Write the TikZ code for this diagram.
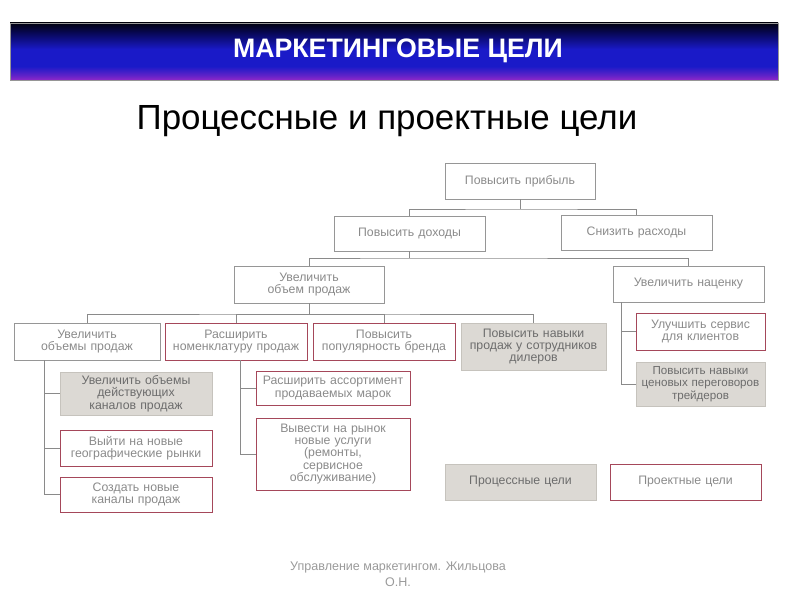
\documentclass[tikz,border=0pt]{standalone}
\usepackage{fontspec}
\setmainfont{Liberation Sans}
\usepackage{tikz}
\usetikzlibrary{positioning,calc}

\definecolor{lineclr}{HTML}{8A8A8A}
\definecolor{boxline}{HTML}{969696}
\definecolor{boxtext}{HTML}{8A8A8A}
\definecolor{projline}{HTML}{A5475A}
\definecolor{procfill}{HTML}{DCD9D4}
\definecolor{procline}{HTML}{C6C3BD}
\definecolor{proctext}{HTML}{6C6C6C}
\definecolor{footgray}{HTML}{9A9A9A}
\definecolor{bannerblue}{HTML}{1A1AC8}
\definecolor{bannernavy}{HTML}{0A0A6A}
\definecolor{bannerpurple}{HTML}{9028C8}
\definecolor{bannertop}{HTML}{000010}

\pgfdeclareverticalshading{banner}{100bp}{color(0bp)=(bannerpurple); color(25bp)=(bannerpurple); color(29bp)=(bannerpurple!60!bannerblue); color(37bp)=(bannerblue); color(52bp)=(bannerblue); color(64bp)=(bannernavy); color(75bp)=(bannertop); color(100bp)=(bannertop)}

\begin{document}
\begin{tikzpicture}[x=0.03cm, y=-0.03cm,
        boxfont/.style={font=\fontsize{10.5}{10.5}\selectfont},
        goal/.style 2 args={draw=boxline, text=boxtext, line width=0.8pt, boxfont,
            minimum width=#1*0.03cm, minimum height=#2*0.03cm,
            text width={#1*0.03cm-4pt}, align=center, inner sep=0pt},
        project/.style={draw=projline},
        process/.style={draw=procline, fill=procfill, text=proctext},
        link/.style={draw=lineclr, line width=0.8pt}]
        \useasboundingbox (0,0) rectangle (800,600);

        % Banner and headings
        \shade[shading=banner, draw=boxline, line width=0.5pt] (10,23) rectangle (778,80);
        \node [text=white, font=\bfseries\fontsize{22.8}{22.8}\selectfont] (title) at (398,51) {МАРКЕТИНГОВЫЕ ЦЕЛИ};
        \node [font=\fontsize{29.8}{29.8}\selectfont] (subtitle) at (387,121) {Процессные и проектные цели};

        % Place nodes
        \node [goal={150}{36}] (profit) at (520,181) {Повысить прибыль};
        \node [goal={151}{35}] (income) at (409.5,233.5) {Повысить доходы};
        \node [goal={151}{35}] (costs) at (636.5,232.5) {Снизить расходы};
        \node [goal={150}{37}] (volume) at (309,284.5) {Увеличить\\объем продаж};
        \node [goal={151}{36}] (markup) at (688.5,284) {Увеличить наценку};

        \node [goal={146}{37}] (volumes) at (87,341.5) {Увеличить\\объемы продаж};
        \node [goal={142}{37}, project] (range) at (236,341.5) {Расширить\\номенклатуру продаж};
        \node [goal={142}{37}, project] (brand) at (384,341.5) {Повысить\\популярность бренда};
        \node [goal={145}{47}, process] (dealers) at (533.5,346.5) {Повысить навыки\\продаж у сотрудников\\дилеров};

        \node [goal={129}{37}, project] (service) at (700.5,331.5) {Улучшить сервис\\для клиентов};
        \node [goal={129}{44}, process, font=\fontsize{9.9}{10.5}\selectfont] (traders) at (700.5,384) {Повысить навыки\\ценовых переговоров\\трейдеров};

        \node [goal={152}{43}, process] (channels) at (136,393.5) {Увеличить объемы\\действующих\\каналов продаж};
        \node [goal={152}{36}, project] (markets) at (136,448) {Выйти на новые\\географические рынки};
        \node [goal={152}{35}, project] (create) at (136,494.5) {Создать новые\\каналы продаж};

        \node [goal={154}{34}, project] (assort) at (333,388) {Расширить ассортимент\\продаваемых марок};
        \node [goal={154}{72}, project] (launch) at (333,454) {Вывести на рынок\\новые услуги\\(ремонты,\\сервисное\\обслуживание)};

        \node [goal={151}{36}, process] (proclegend) at (520.5,482) {Процессные цели};
        \node [goal={151}{36}, project] (projlegend) at (685.5,482) {Проектные цели};

        \node [text=footgray, align=center, font=\fontsize{10.7}{13.6}\selectfont] (footer) at (398,574) {Управление маркетингом. Жильцова\\О.Н.};

        % Draw edges
        \coordinate (j1) at (520,209);
        \coordinate (j2) at (409.5,258);
        \coordinate (j3) at (309,314);
        \coordinate (m1) at ($(markup.south west)+(9,0)$);
        \coordinate (v1) at ($(volumes.south west)+(31,0)$);
        \coordinate (r1) at ($(range.south)+(4,0)$);

        \draw [link] (profit.south) -- (j1);
        \draw [link] (income.north) |- (j1) -| (costs.north);
        \draw [link] (income.south) -- (j2);
        \draw [link] (volume.north) |- (j2) -| (markup.north);
        \draw [link] (volume.south) -- (j3);
        \draw [link] (volumes.north) |- (j3) -| (dealers.north);
        \draw [link] (range.north) |- (j3);
        \draw [link] (brand.north) |- (j3);

        \draw [link] (m1) |- (service.west);
        \draw [link] (m1) |- (traders.west);
        \draw [link] (v1) |- (channels.west);
        \draw [link] (v1) |- (markets.west);
        \draw [link] (v1) |- (create.west);
        \draw [link] (r1) |- (assort.west);
        \draw [link] (r1) |- (launch.west);
    \end{tikzpicture}
\end{document}
